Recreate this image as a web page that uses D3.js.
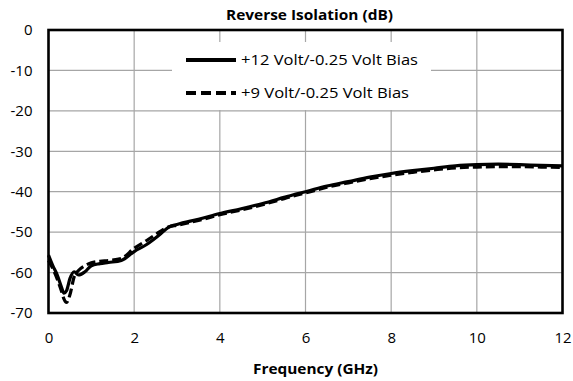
<!DOCTYPE html>
<html>
<head>
<meta charset="utf-8">
<script src="https://cdn.jsdelivr.net/npm/d3@7/dist/d3.min.js"></script>
<style>
  html, body { margin: 0; padding: 0; background: #fff; }
  svg { display: block; font-family: "Open Sans", Lato, sans-serif; }
</style>
</head>
<body>
<svg id="chart" width="573" height="381"></svg>
<script>
// Reverse isolation vs frequency for two bias conditions
const freqGHz = [0, 0.1, 0.2, 0.3, 0.36, 0.42, 0.5, 0.6, 0.7, 0.85, 1.0, 1.2, 1.4, 1.7, 2.0, 2.3, 2.6, 2.8, 3.0, 3.5, 4.0, 4.5, 5.0, 5.5, 5.7, 6.0, 6.5, 7.0, 7.5, 8.0, 8.5, 9.0, 9.5, 10.0, 10.5, 11.0, 11.5, 12.0];
const bias12V = [-55.7, -58.3, -60.5, -63.5, -65.1, -64.5, -61.5, -59.8, -60.6, -59.8, -58.3, -57.8, -57.5, -57.0, -54.8, -53.0, -50.6, -48.8, -48.1, -46.8, -45.4, -44.2, -42.9, -41.4, -40.8, -40.0, -38.6, -37.5, -36.4, -35.5, -34.8, -34.2, -33.6, -33.3, -33.2, -33.3, -33.5, -33.6];
const bias9V  = [-57.0, -59.0, -61.5, -64.5, -66.5, -67.4, -65.5, -61.0, -59.5, -58.3, -57.6, -57.2, -57.0, -56.5, -54.0, -52.0, -49.9, -48.7, -48.3, -47.1, -45.7, -44.5, -43.2, -41.7, -41.1, -40.3, -38.9, -37.8, -36.8, -35.9, -35.2, -34.6, -34.1, -33.9, -33.8, -33.8, -33.9, -34.0];

const xTicks = [0, 2, 4, 6, 8, 10, 12];
const yTicks = [0, -10, -20, -30, -40, -50, -60, -70];
const seriesNames = ["+12 Volt/-0.25 Volt Bias", "+9 Volt/-0.25 Volt Bias"];
const chartTitle = "Reverse Isolation (dB)";
const xTitle = "Frequency (GHz)";

const svg = d3.select("#chart");
const plot = { left: 48.5, right: 562.5, top: 30, bottom: 313 };

const x = d3.scaleLinear().domain([0, 12]).range([plot.left, plot.right]);
const y = d3.scaleLinear().domain([-70, 0]).range([plot.bottom, plot.top]);

// gridlines
const grid = svg.append("g").attr("stroke", "#a6a6a6").attr("stroke-width", 1.2);
grid.selectAll(".vx").data(xTicks.slice(1, -1)).join("line")
  .attr("x1", d => x(d)).attr("x2", d => x(d))
  .attr("y1", plot.top).attr("y2", plot.bottom);
grid.selectAll(".hy").data(yTicks.slice(1, -1)).join("line")
  .attr("y1", d => y(d)).attr("y2", d => y(d))
  .attr("x1", plot.left).attr("x2", plot.right);

// axes (labels only; frame drawn separately); plain hyphen for negatives
const xAxis = svg.append("g")
  .attr("transform", `translate(0,${plot.bottom})`)
  .call(d3.axisBottom(x).tickValues(xTicks).tickSize(0).tickPadding(19)
    .tickFormat(d => String(d)));
const yAxis = svg.append("g")
  .attr("transform", `translate(${plot.left},0)`)
  .call(d3.axisLeft(y).tickValues(yTicks).tickSize(0).tickPadding(16)
    .tickFormat(d => String(d)));
[xAxis, yAxis].forEach(a => {
  a.select(".domain").remove();
  a.selectAll("text").attr("font-size", 15).attr("fill", "#000")
    .attr("font-family", "'Open Sans', Lato, sans-serif");
});

// legend background
const legend = svg.append("g");
legend.append("rect")
  .attr("x", 172).attr("y", 42).attr("width", 259).attr("height", 68)
  .attr("fill", "#fff");

// series
const line = d3.line().x((d, i) => x(freqGHz[i])).y(d => y(d)).curve(d3.curveMonotoneX);
svg.append("path").datum(bias9V).attr("d", line)
  .attr("fill", "none").attr("stroke", "#000").attr("stroke-width", 3.2)
  .attr("stroke-dasharray", "9,4");
svg.append("path").datum(bias12V).attr("d", line)
  .attr("fill", "none").attr("stroke", "#000").attr("stroke-width", 3.2);

// plot frame
svg.append("rect")
  .attr("x", plot.left).attr("y", plot.top)
  .attr("width", plot.right - plot.left).attr("height", plot.bottom - plot.top)
  .attr("fill", "none").attr("stroke", "#000").attr("stroke-width", 2.6);

// legend entries
const legendRows = [
  { name: seriesNames[0], dash: null, cy: 60, len: 177 },
  { name: seriesNames[1], dash: "10,5", cy: 93, len: 168 }
];
legendRows.forEach(r => {
  legend.append("line")
    .attr("x1", 186).attr("x2", 236).attr("y1", r.cy).attr("y2", r.cy)
    .attr("stroke", "#000").attr("stroke-width", 4)
    .attr("stroke-dasharray", r.dash);
  legend.append("text")
    .attr("x", 241).attr("y", r.cy).attr("dy", "0.36em")
    .attr("font-size", 14)
    .attr("textLength", r.len).attr("lengthAdjust", "spacingAndGlyphs")
    .text(r.name);
});

// titles
svg.append("text").attr("x", 309.5).attr("y", 20)
  .attr("text-anchor", "middle").attr("font-weight", "bold").attr("font-size", 13.5)
  .attr("textLength", 167).attr("lengthAdjust", "spacingAndGlyphs")
  .text(chartTitle);
svg.append("text").attr("x", 315.5).attr("y", 374)
  .attr("text-anchor", "middle").attr("font-weight", "bold").attr("font-size", 14)
  .attr("textLength", 125).attr("lengthAdjust", "spacingAndGlyphs")
  .text(xTitle);
</script>
</body>
</html>
